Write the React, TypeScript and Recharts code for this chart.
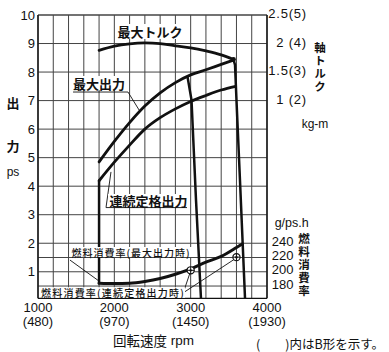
import React from 'react';
import { ComposedChart, Line, XAxis, YAxis, ReferenceLine, ReferenceDot } from 'recharts';

const W = 389;
const H = 352;
const NUM_FONT = '"Liberation Sans", Arial, sans-serif';
const JP_FONT = '"Noto Sans CJK JP", "Noto Sans", sans-serif';

// ---- axes / ticks ----
const rpmTicks = [1000, 2000, 3000, 4000];
const rpmTickSub = ['(480)', '(970)', '(1450)', '(1930)'];
const psTicks = [1, 2, 3, 4, 5, 6, 7, 8, 9, 10];
const torqueTicks = [1, 1.5, 2, 2.5];
const torqueTickLabels = ['1 (2)', '1.5(3)', '2 (4)', '2.5(5)'];
const fuelTicks = [180, 200, 220, 240];
const gridRpm = [1000, 1200, 1400, 1600, 1800, 2000, 2200, 2400, 2600, 2800, 3000, 3200, 3400, 3600, 3800, 4000];
const gridPs = [0.5, 1, 1.5, 2, 3, 4, 5, 6, 7, 8, 9, 10];
const psDomain = [0.07, 10];
const torqueDomain = [-2.465, 2.5];
const fuelDomain = [162.8, 560];

// ---- series ----
const torqueRpm = [1800, 2000, 2200, 2400, 2600, 2800, 3000, 3200, 3400, 3560];
const torqueKgm = [1.88, 1.955, 1.995, 2.01, 2.0, 1.96, 1.925, 1.87, 1.8, 1.72];

const maxOutRpm = [1800, 2000, 2200, 2400, 2600, 2800, 3000, 3200, 3400, 3560];
const maxOutPs = [4.85, 5.57, 6.23, 6.81, 7.27, 7.63, 7.9, 8.08, 8.27, 8.42];

const contRpm = [1800, 2000, 2200, 2400, 2600, 2800, 3000, 3200, 3400, 3590];
const contPs = [4.19, 4.84, 5.44, 6.0, 6.4, 6.71, 6.97, 7.18, 7.37, 7.5];

const dropARpm = [2959, 3011, 3070, 3135];
const dropAPs = [7.83, 7.02, 3.51, 0.07];

const dropBRpm = [3561, 3581, 3603, 3646, 3712];
const dropBPs = [8.44, 8.25, 6.84, 4.21, 0.07];

const lowRpm = [1800, 1800];
const lowPs = [4.19, 0.6];

const fuelRpm = [1800, 2000, 2200, 2400, 2600, 2800, 3000, 3200, 3400, 3600, 3675];
const fuelG = [184, 183.5, 184, 186.5, 190.5, 196.5, 204, 213.5, 221.5, 234, 239];

const contFuelRpm = [3000, 3600];
const contFuelG = [202, 220.5];

// leader lines (data units on ps axis)
const leaders: [number, number, number, number][] = [
  [1459, 7.3, 2179, 7.3],
  [2179, 7.3, 2336, 6.62],
  [1891, 3.25, 2952, 3.25],
  [1891, 3.25, 1956, 4.5],
  [1419, 1.41, 1812, 0.65],
  [2903, 0.263, 2991, 0.96],
  [2903, 0.263, 3568, 1.43],
];

const zip = (xs: number[], ys: number[]) => xs.map((x, i) => ({ rpm: x, v: ys[i] }));

const torqueData = zip(torqueRpm, torqueKgm);
const maxOutData = zip(maxOutRpm, maxOutPs);
const contData = zip(contRpm, contPs);
const dropAData = zip(dropARpm, dropAPs);
const dropBData = zip(dropBRpm, dropBPs);
const lowData = zip(lowRpm, lowPs);
const fuelData = zip(fuelRpm, fuelG);
const contFuelData = zip(contFuelRpm, contFuelG);

const XTick = (p: any) => {
  const i = rpmTicks.indexOf(p.payload.value);
  return (
    <g fontFamily={NUM_FONT} fontSize={13} fill="#111">
      <text x={p.x} y={p.y + 9} textAnchor="middle" dominantBaseline="central">{p.payload.value}</text>
      <text x={p.x} y={p.y + 23.5} textAnchor="middle" dominantBaseline="central">{rpmTickSub[i]}</text>
    </g>
  );
};

const PsTick = (p: any) => (
  <text x={p.x} y={p.y} textAnchor="end" dominantBaseline="central" fontFamily={NUM_FONT} fontSize={13} fill="#111">
    {p.payload.value}
  </text>
);

const FuelTick = (p: any) => (
  <text x={p.x + 15.7} y={p.y - 2} textAnchor="middle" dominantBaseline="central" fontFamily={NUM_FONT} fontSize={13} fill="#111">
    {p.payload.value}
  </text>
);

const TorqueTick = (p: any) => {
  const i = torqueTicks.indexOf(p.payload.value);
  return (
    <text x={p.x} y={p.y - 1.5} textAnchor="end" dominantBaseline="central" fontFamily={NUM_FONT} fontSize={13} letterSpacing={0.8} fill="#111">
      {torqueTickLabels[i]}
    </text>
  );
};

const Marker = (p: any) => {
  const { cx, cy } = p;
  if (cx == null || cy == null) return null;
  return (
    <g key={`m-${cx}`}>
      <circle cx={cx} cy={cy} r={3.6} fill="#fff" stroke="#111" strokeWidth={1.2} />
      <line x1={cx - 3.6} y1={cy} x2={cx + 3.6} y2={cy} stroke="#111" strokeWidth={1} />
      <line x1={cx} y1={cy - 3.6} x2={cx} y2={cy + 3.6} stroke="#111" strokeWidth={1} />
      <circle cx={cx} cy={cy} r={1.2} fill="#111" />
    </g>
  );
};

const Label = ({ x, y, w, h, text, size, bold, ls }: any) => (
  <g>
    <rect x={x - w / 2} y={y - h / 2} width={w} height={h} fill="#fff" />
    <text x={x} y={y} textAnchor="middle" dominantBaseline="central" fontFamily={JP_FONT} fontSize={size} fontWeight={bold ? 700 : 500} letterSpacing={ls || 0} fill="#111">
      {text}
    </text>
  </g>
);

const VText = ({ x, top, text, size, ls }: any) => (
  <text x={x} y={top} fontFamily={JP_FONT} fontSize={size} fontWeight={700} letterSpacing={ls} fill="#111"
    style={{ writingMode: 'vertical-rl' as any }}>
    {text}
  </text>
);

export default function App() {
  const grid = '#444';
  const curve = { isAnimationActive: false, dot: false, activeDot: false, stroke: '#111', strokeLinecap: 'round' as const, strokeLinejoin: 'round' as const };
  return (
    <div style={{ position: 'absolute', left: 0, top: 0, width: W, height: H, background: '#fff' }}>
      <ComposedChart width={W} height={H} margin={{ top: 15, right: 0, bottom: 0, left: 0 }}>
        <XAxis dataKey="rpm" type="number" domain={[1000, 4000]} ticks={rpmTicks} interval={0} height={53.7}
          tickSize={0} tickMargin={0} tick={(p: any) => <XTick {...p} />} axisLine={{ stroke: '#111', strokeWidth: 1.3 }} tickLine={false} allowDataOverflow />
        <YAxis yAxisId="ps" type="number" domain={psDomain} ticks={psTicks} interval={0} width={38}
          tickSize={0} tickMargin={3} tick={(p: any) => <PsTick {...p} />} axisLine={{ stroke: '#111', strokeWidth: 1.3 }} tickLine={false} allowDataOverflow />
        <YAxis yAxisId="fuel" orientation="right" type="number" domain={fuelDomain} ticks={fuelTicks} interval={0} width={40}
          tickSize={0} tickMargin={0} tick={(p: any) => <FuelTick {...p} />} axisLine={{ stroke: '#111', strokeWidth: 1.3 }} tickLine={false} allowDataOverflow />
        <YAxis yAxisId="torque" orientation="right" type="number" domain={torqueDomain} ticks={torqueTicks} interval={0} width={82}
          tickSize={0} tickMargin={0} tick={(p: any) => <TorqueTick {...p} />} axisLine={false} tickLine={false} allowDataOverflow />

        {gridRpm.map((v) => (
          <ReferenceLine key={`gx${v}`} yAxisId="ps" x={v} stroke={grid} strokeWidth={v === 1000 || v === 4000 ? 1.3 : 1} />
        ))}
        {gridPs.map((v) => (
          <ReferenceLine key={`gy${v}`} yAxisId="ps" y={v} stroke={grid} strokeWidth={v === 10 ? 1.3 : 1} />
        ))}

        {leaders.map((s, i) => (
          <ReferenceLine key={`ld${i}`} yAxisId="ps" segment={[{ x: s[0], y: s[1] }, { x: s[2], y: s[3] }]} stroke="#111" strokeWidth={0.9} />
        ))}

        <Line {...curve} yAxisId="torque" data={torqueData} dataKey="v" type="monotone" strokeWidth={2.8} />
        <Line {...curve} yAxisId="ps" data={maxOutData} dataKey="v" type="monotone" strokeWidth={2.8} />
        <Line {...curve} yAxisId="ps" data={contData} dataKey="v" type="monotone" strokeWidth={2.8} />
        <Line {...curve} yAxisId="ps" data={dropAData} dataKey="v" type="linear" strokeWidth={2.5} />
        <Line {...curve} yAxisId="ps" data={dropBData} dataKey="v" type="linear" strokeWidth={2.5} />
        <Line {...curve} yAxisId="ps" data={lowData} dataKey="v" type="linear" strokeWidth={2.5} />
        <Line {...curve} yAxisId="fuel" data={fuelData} dataKey="v" type="monotone" strokeWidth={3} />
        <Line isAnimationActive={false} yAxisId="fuel" data={contFuelData} dataKey="v" stroke="none" dot={(p: any) => <Marker {...p} />} activeDot={false} />
        <ReferenceDot yAxisId="ps" x={dropBRpm[0]} y={dropBPs[0]} r={2.4} fill="#111" stroke="none" />
      </ComposedChart>

      <svg width={W} height={H} style={{ position: 'absolute', left: 0, top: 0, pointerEvents: 'none' }}>
        <Label x={150} y={31.5} w={68} h={15} text="最大トルク" size={13} bold />
        <Label x={99} y={83} w={56} h={14} text="最大出力" size={13} bold />
        <Label x={148.5} y={200.5} w={81} h={13} text="連続定格出力" size={13} bold />
        <Label x={131} y={252} w={122} h={10} text="燃料消費率(最大出力時)" size={10} ls={1} />
        <Label x={113} y={292.5} w={144} h={10.5} text="燃料消費率(連続定格出力時)" size={10} ls={1.2} />

        <text x={13} y={102} textAnchor="middle" dominantBaseline="central" fontFamily={JP_FONT} fontSize={13} fontWeight={700} fill="#111">出</text>
        <text x={13} y={145} textAnchor="middle" dominantBaseline="central" fontFamily={JP_FONT} fontSize={13} fontWeight={700} fill="#111">力</text>
        <text x={13} y={172} textAnchor="middle" dominantBaseline="central" fontFamily={NUM_FONT} fontSize={12} fill="#111">ps</text>

        <VText x={320} top={42.2} text="軸トルク" size={11.5} ls={1.5} />
        <text x={315} y={124} textAnchor="middle" dominantBaseline="central" fontFamily={NUM_FONT} fontSize={12} fill="#111">kg-m</text>

        <text x={291.7} y={223} textAnchor="middle" dominantBaseline="central" fontFamily={NUM_FONT} fontSize={12.5} fill="#111">g/ps.h</text>
        <VText x={304} top={232.5} text="燃料消費率" size={11.5} ls={1.6} />

        <text x={113} y={340} dominantBaseline="central" fontFamily={JP_FONT} fontSize={13.5} fill="#111">
          回転速度<tspan fontFamily={NUM_FONT}> rpm</tspan>
        </text>
        <text x={256} y={343} dominantBaseline="central" fontFamily={JP_FONT} fontSize={12.5} fill="#111">
          (　　)内はB形を示す。
        </text>
      </svg>
    </div>
  );
}
